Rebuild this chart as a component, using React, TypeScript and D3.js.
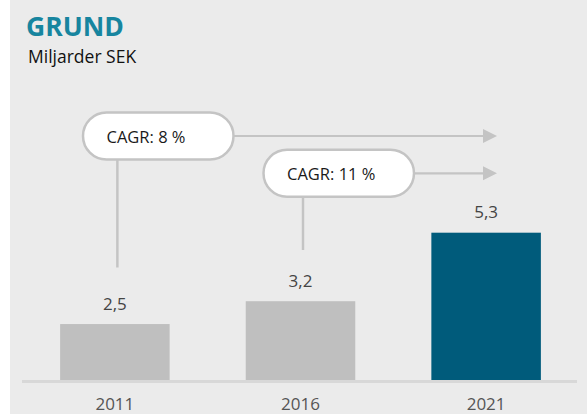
import React from "react";
import * as d3 from "d3";

const years = ["2011", "2016", "2021"];
const values = [2.5, 3.2, 5.3];
const barColors = ["#bfbfbf", "#bfbfbf", "#005b7b"];
const cagrLabels = ["CAGR: 8 %", "CAGR: 11 %"];
const cagrFrom = ["2011", "2016"];

const W = 587;
const H = 414;
const FONT = "'Open Sans', 'Noto Sans', sans-serif";

export default function App() {
  const x = d3.scaleBand<string>().domain(years).range([23, 578]).paddingInner(0.41).paddingOuter(0.2);
  const baseY = 380.5;
  const y = d3.scaleLinear().domain([0.77, 5.3]).range([baseY, 232.7]);
  const fmt = (v: number) => d3.format(".1f")(v).replace(".", ",");

  // annotation geometry
  const bubbles = [
    { x0: 83, cy: 136, lineBottom: 267.5 },
    { x0: 263.5, cy: 173.3, lineBottom: 250 },
  ];
  const bw = 150.5;
  const bh = 47;
  const arrowEnd = 497;
  const headLen = 14;

  return (
    <svg width={W} height={H} style={{ position: "absolute", left: 0, top: 0, display: "block" }}>
      <rect x={0} y={0} width={W} height={H} fill="#ffffff" />
      <rect x={10} y={0} width={W - 10} height={H} fill="#ebebeb" />

      <text x={26} y={36} fill="#17859f" fontFamily={FONT} fontWeight={700} fontSize={26.5}>
        GRUND
      </text>
      <text x={28} y={63} fill="#111" fontFamily={FONT} fontSize={17.5}>
        Miljarder SEK
      </text>

      {/* baseline */}
      <rect x={22} y={380} width={555} height={3} fill="#d8d8d8" />

      {years.map((yr, i) => (
        <g key={yr}>
          <rect x={x(yr)} y={y(values[i])} width={x.bandwidth()} height={380 - y(values[i])} fill={barColors[i]} />
          <text
            x={x(yr)! + x.bandwidth() / 2}
            y={y(values[i]) - 14.5}
            textAnchor="middle"
            fill="#444"
            fontFamily={FONT}
            fontSize={17}
          >
            {fmt(values[i])}
          </text>
          <text x={x(yr)! + x.bandwidth() / 2} y={409.5} textAnchor="middle" fill="#555" fontFamily={FONT} fontSize={17}>
            {yr}
          </text>
        </g>
      ))}

      {cagrLabels.map((lab, i) => {
        const b = bubbles[i];
        const lx = x(cagrFrom[i])! + x.bandwidth() / 2 + 2.5;
        return (
          <g key={lab}>
            <line x1={lx} x2={lx} y1={b.cy + bh / 2} y2={b.lineBottom} stroke="#c4c4c4" strokeWidth={2.5} />
            <line x1={b.x0 + bw} x2={arrowEnd - headLen + 1} y1={b.cy} y2={b.cy} stroke="#c4c4c4" strokeWidth={2.2} />
            <polygon
              points={`${arrowEnd - headLen},${b.cy - 7} ${arrowEnd},${b.cy} ${arrowEnd - headLen},${b.cy + 7}`}
              fill="#c4c4c4"
            />
            <rect
              x={b.x0}
              y={b.cy - bh / 2}
              width={bw}
              height={bh}
              rx={bh / 2}
              ry={bh / 2}
              fill="#ffffff"
              stroke="#c4c4c4"
              strokeWidth={2.5}
            />
            <text x={b.x0 + 23.5} y={b.cy + 7} fill="#1a1a1a" fontFamily={FONT} fontSize={16.5}>
              {lab}
            </text>
          </g>
        );
      })}
    </svg>
  );
}
